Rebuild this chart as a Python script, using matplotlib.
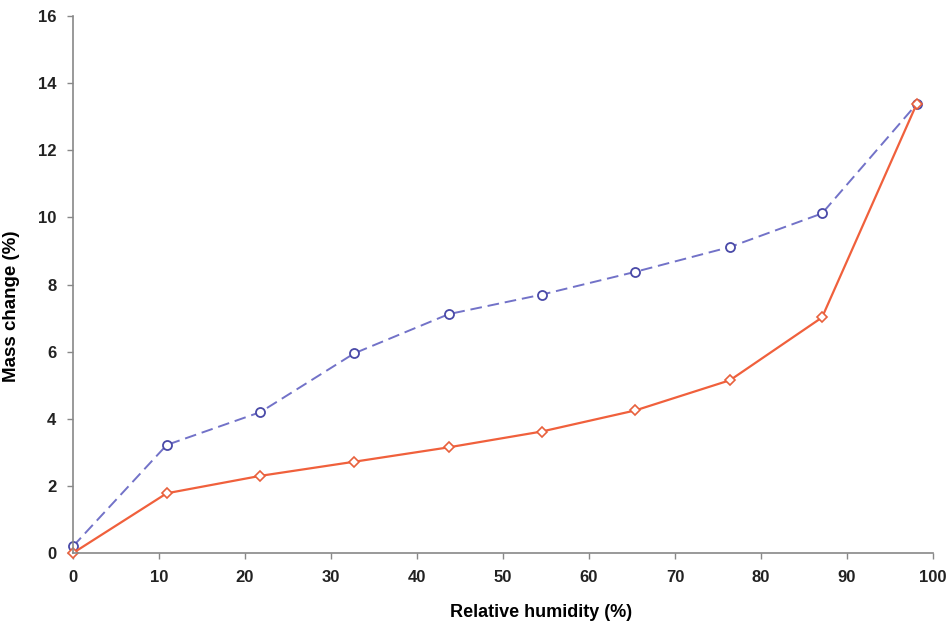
import matplotlib
matplotlib.use('Agg')
import matplotlib.pyplot as plt

# 상대습도 [%]
rh = [0, 10.9, 21.8, 32.7, 43.7, 54.5, 65.4, 76.4, 87.1, 98.1]
# 질량 변화 [%]
desorption = [0.2, 3.22, 4.2, 5.95, 7.12, 7.7, 8.38, 9.12, 10.12, 13.38]
sorption = [0.0, 1.78, 2.3, 2.72, 3.15, 3.62, 4.25, 5.15, 7.02, 13.38]

xticks = list(range(0, 101, 10))
yticks = list(range(0, 17, 2))

plt.rcParams['font.family'] = ['Liberation Sans', 'DejaVu Sans']

fig = plt.figure(figsize=(9.52, 6.21), dpi=100)
ax = fig.add_axes([0.0767, 0.1095, 0.9033, 0.8645])

ax.plot(rh, desorption, '--', color='#7272c8', lw=1.4, dashes=(6, 3),
        marker='o', ms=6.5, mfc='white', mec='#4a4aa8', mew=1.3)
ax.plot(rh, sorption, '-', color='#f0603c', lw=1.6,
        marker='D', ms=5, mfc='white', mec='#e8603c', mew=1.2)

ax.set_xlim(0, 100)
ax.set_ylim(0, 16)
ax.set_xticks(xticks)
ax.set_yticks(yticks)
ax.set_xlabel('Relative humidity (%)', fontsize=13, fontweight='bold')
ax.set_ylabel('Mass change (%)', fontsize=13.5, fontweight='bold')
# 원본에서 축 제목이 가운데보다 살짝 치우쳐 있음
ax.xaxis.set_label_coords(0.544, -0.095)
ax.yaxis.set_label_coords(-0.062, 0.46)
for lab in ax.get_xticklabels() + ax.get_yticklabels():
    lab.set_fontweight('bold')
ax.tick_params(labelsize=12, colors='#888888', labelcolor='#222222',
               direction='out', length=4, width=1, pad=8)
ax.spines['top'].set_visible(False)
ax.spines['right'].set_visible(False)
for s in ('left', 'bottom'):
    ax.spines[s].set_color('#888888')
    ax.spines[s].set_linewidth(1.2)
for m in ax.lines:
    m.set_clip_on(False)

fig.savefig('out.png', dpi=100)
